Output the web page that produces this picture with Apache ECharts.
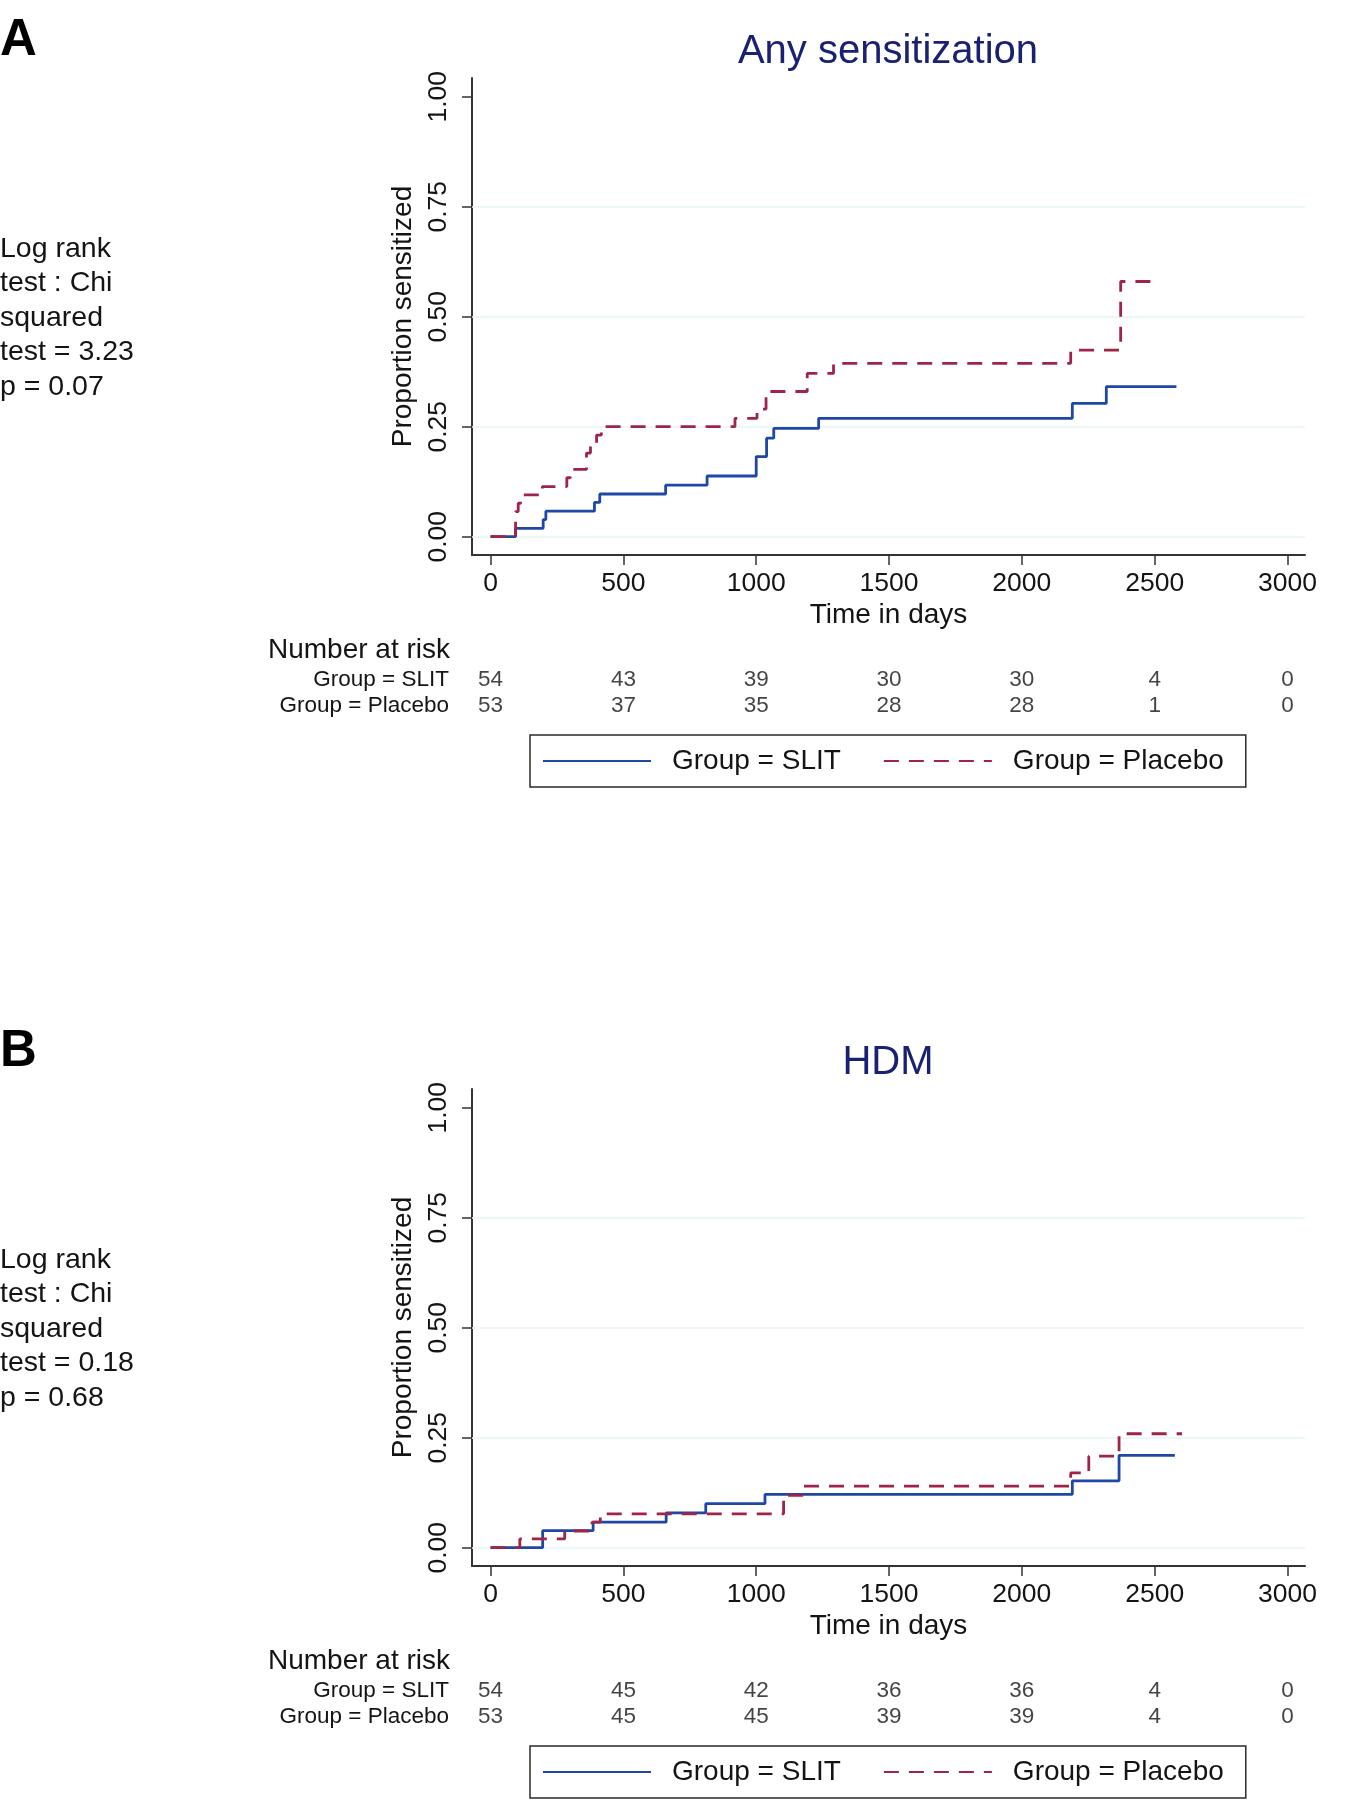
<!DOCTYPE html>
<html>
<head>
<meta charset="utf-8">
<script src="https://cdn.jsdelivr.net/npm/echarts@6/dist/echarts.min.js"></script>
<style>
html,body{margin:0;padding:0;background:#fff;}
#chart{width:1354px;height:1800px;}
</style>
</head>
<body>
<div id="chart"></div>
<script>
// ---------------- DATA ----------------
const panelLetters = ['A', 'B'];
const panelTitles = ['Any sensitization', 'HDM'];
const logRankTexts = [
  'Log rank\ntest : Chi\nsquared\ntest = 3.23\np = 0.07',
  'Log rank\ntest : Chi\nsquared\ntest = 0.18\np = 0.68'
];
const groupNames = ['Group = SLIT', 'Group = Placebo'];
const xTickValues = [0, 500, 1000, 1500, 2000, 2500, 3000];
const yTickValues = [0, 0.25, 0.5, 0.75, 1];
const gridLineValues = [0, 0.25, 0.5, 0.75];
const xAxisTitle = 'Time in days';
const yAxisTitle = 'Proportion sensitized';
const riskTitle = 'Number at risk';

// Panel A: Any sensitization (time in days, cumulative proportion sensitized)
const aSlitDays = [0, 94, 198, 208, 391, 411, 659, 815, 1000, 1039, 1066, 1235, 2190, 2318, 2582];
const aSlitProp = [0, 0.019, 0.039, 0.058, 0.078, 0.097, 0.117, 0.138, 0.182, 0.224, 0.246, 0.269, 0.303, 0.341, 0.341];
const aPlacDays = [0, 94, 104, 113, 195, 287, 300, 361, 376, 399, 417, 920, 1003, 1037, 1192, 1291, 2184, 2372, 2521];
const aPlacProp = [0, 0.057, 0.076, 0.095, 0.114, 0.134, 0.153, 0.19, 0.212, 0.231, 0.25, 0.269, 0.29, 0.33, 0.371, 0.394, 0.424, 0.58, 0.58];

// Panel B: HDM
const bSlitDays = [0, 196, 386, 661, 810, 1033, 2190, 2366, 2576];
const bSlitProp = [0, 0.039, 0.058, 0.079, 0.1, 0.121, 0.152, 0.21, 0.21];
const bPlacDays = [0, 110, 279, 382, 413, 1103, 1178, 2184, 2252, 2366, 2603];
const bPlacProp = [0, 0.02, 0.038, 0.058, 0.077, 0.119, 0.14, 0.17, 0.208, 0.259, 0.259];

// Number at risk
const riskTimes = [0, 500, 1000, 1500, 2000, 2500, 3000];
const aRiskSlit = [54, 43, 39, 30, 30, 4, 0];
const aRiskPlac = [53, 37, 35, 28, 28, 1, 0];
const bRiskSlit = [54, 45, 42, 36, 36, 4, 0];
const bRiskPlac = [53, 45, 45, 39, 39, 4, 0];

// ---------------- STYLE / LAYOUT ----------------
const FONT = '"Liberation Sans", Arial, Helvetica, sans-serif';
const TXT = '#141414';
const AX = '#333333';
const BLUE = '#1f48a6';
const RED = '#a02447';
const NAVY = '#1a2172';
const DY = 1011;
const LAY = {
  gridLeft: 472, gridWidth: 833, gridTop: 78, gridHeight: 477,
  xMin: -70, xMax: 3066, yMin: -0.0416, yMax: 1.0425,
  riskTop: 667, riskHeight: 52,
  legendLeft: 530, legendTop: 735
};

const panels = [
  {slit: [aSlitDays, aSlitProp], plac: [aPlacDays, aPlacProp], risk: [aRiskSlit, aRiskPlac]},
  {slit: [bSlitDays, bSlitProp], plac: [bPlacDays, bPlacProp], risk: [bRiskSlit, bRiskPlac]}
];

const grid = [], xAxis = [], yAxis = [], series = [], legend = [], graphic = [];

function zip(xs, ys) { return xs.map((x, i) => [x, ys[i]]); }
function text(x, y, str, size, extra) {
  return {
    type: 'text', x: x, y: y, silent: true,
    style: Object.assign({
      text: str, fontSize: size, fontFamily: FONT, fill: TXT,
      align: 'left', verticalAlign: 'middle', textAlign: 'left', textVerticalAlign: 'middle'
    }, extra || {})
  };
}

panels.forEach((p, k) => {
  const off = k * DY;
  const gMain = 2 * k, gRisk = 2 * k + 1;
  grid.push({left: LAY.gridLeft, width: LAY.gridWidth, top: LAY.gridTop + off, height: LAY.gridHeight, containLabel: false});
  grid.push({left: LAY.gridLeft, width: LAY.gridWidth, top: LAY.riskTop + off, height: LAY.riskHeight, containLabel: false});

  xAxis.push({
    gridIndex: gMain, type: 'value', min: LAY.xMin, max: LAY.xMax,
    axisLine: {show: true, onZero: false, lineStyle: {color: AX, width: 2}},
    axisTick: {show: true, length: 10, customValues: xTickValues, lineStyle: {color: AX, width: 1.5}},
    axisLabel: {customValues: xTickValues, margin: 15, fontSize: 26.5, fontFamily: FONT, color: TXT,
      formatter: v => String(Math.round(v))},
    splitLine: {show: false},
    name: xAxisTitle, nameLocation: 'middle', nameGap: 46,
    nameTextStyle: {fontSize: 28, fontFamily: FONT, color: TXT}
  });
  xAxis.push({gridIndex: gRisk, type: 'value', min: LAY.xMin, max: LAY.xMax, show: false});

  yAxis.push({
    gridIndex: gMain, type: 'value', min: LAY.yMin, max: LAY.yMax,
    axisLine: {show: true, onZero: false, lineStyle: {color: AX, width: 2}},
    axisTick: {show: true, length: 10, customValues: yTickValues, lineStyle: {color: AX, width: 1.5}},
    axisLabel: {customValues: yTickValues, rotate: 90, margin: 19.5, fontSize: 26.5, fontFamily: FONT, color: TXT,
      formatter: v => Number(v).toFixed(2)},
    splitLine: {show: false},
    name: yAxisTitle, nameLocation: 'middle', nameRotate: 90, nameGap: 45,
    nameTextStyle: {fontSize: 28, fontFamily: FONT, color: TXT}
  });
  yAxis.push({
    gridIndex: gRisk, type: 'category', data: groupNames, inverse: true,
    axisLine: {show: false}, axisTick: {show: false}, splitLine: {show: false},
    axisLabel: {interval: 0, margin: 23, fontSize: 22.5, fontFamily: FONT, color: TXT}
  });

  series.push({
    name: groupNames[0], type: 'line', xAxisIndex: gMain, yAxisIndex: gMain,
    data: zip(p.slit[0], p.slit[1]), step: 'end', symbol: 'none', showSymbol: false,
    lineStyle: {color: BLUE, width: 2.8, type: 'solid'}, itemStyle: {color: BLUE},
    z: 3,
    markLine: {
      silent: true, symbol: ['none', 'none'], z: 1, animation: false,
      label: {show: false},
      lineStyle: {color: '#e6f5f8', width: 1.5, type: 'solid'},
      data: gridLineValues.map(v => ({yAxis: v}))
    }
  });
  series.push({
    name: groupNames[1], type: 'line', xAxisIndex: gMain, yAxisIndex: gMain,
    data: zip(p.plac[0], p.plac[1]), step: 'end', symbol: 'none', showSymbol: false,
    lineStyle: {color: RED, width: 2.8, type: [15, 10]}, itemStyle: {color: RED},
    z: 4
  });
  [0, 1].forEach(g => {
    series.push({
      name: 'risk' + k + g, type: 'scatter', xAxisIndex: gRisk, yAxisIndex: gRisk,
      data: riskTimes.map((t, i) => [t, groupNames[g], p.risk[g][i]]),
      symbolSize: 1, itemStyle: {color: 'rgba(0,0,0,0)'}, silent: true,
      label: {show: true, position: 'inside', formatter: d => String(d.value[2]),
        fontSize: 22.5, fontFamily: FONT, color: TXT}
    });
  });

  legend.push({
    data: groupNames, left: LAY.legendLeft, top: LAY.legendTop + off,
    orient: 'horizontal', itemWidth: 108, itemHeight: 14, itemGap: 42,
    padding: [12, 22, 12, 12], borderColor: '#2a2a2a', borderWidth: 1.5,
    selectedMode: false,
    itemStyle: {opacity: 0, borderWidth: 0},
    textStyle: {fontSize: 28, fontFamily: FONT, color: TXT, padding: [0, 0, 0, 16]}
  });

  graphic.push(text(0, 41 + off, panelLetters[k], 51, {fontWeight: 'bold', fill: '#000'}));
  graphic.push(text(888, 51.5 + off, panelTitles[k], 40, {fill: NAVY, align: 'center', textAlign: 'center'}));
  graphic.push(text(0, 231.5 + off, logRankTexts[k], 28.5, {lineHeight: 34.5, verticalAlign: 'top', textVerticalAlign: 'top'}));
  graphic.push(text(450, 650.5 + off, riskTitle, 28, {align: 'right', textAlign: 'right'}));
});

const chart = echarts.init(document.getElementById('chart'), null, {renderer: 'canvas'});
chart.setOption({
  animation: false,
  backgroundColor: '#ffffff',
  textStyle: {fontFamily: FONT},
  grid: grid, xAxis: xAxis, yAxis: yAxis, series: series, legend: legend, graphic: graphic
});
</script>
</body>
</html>
